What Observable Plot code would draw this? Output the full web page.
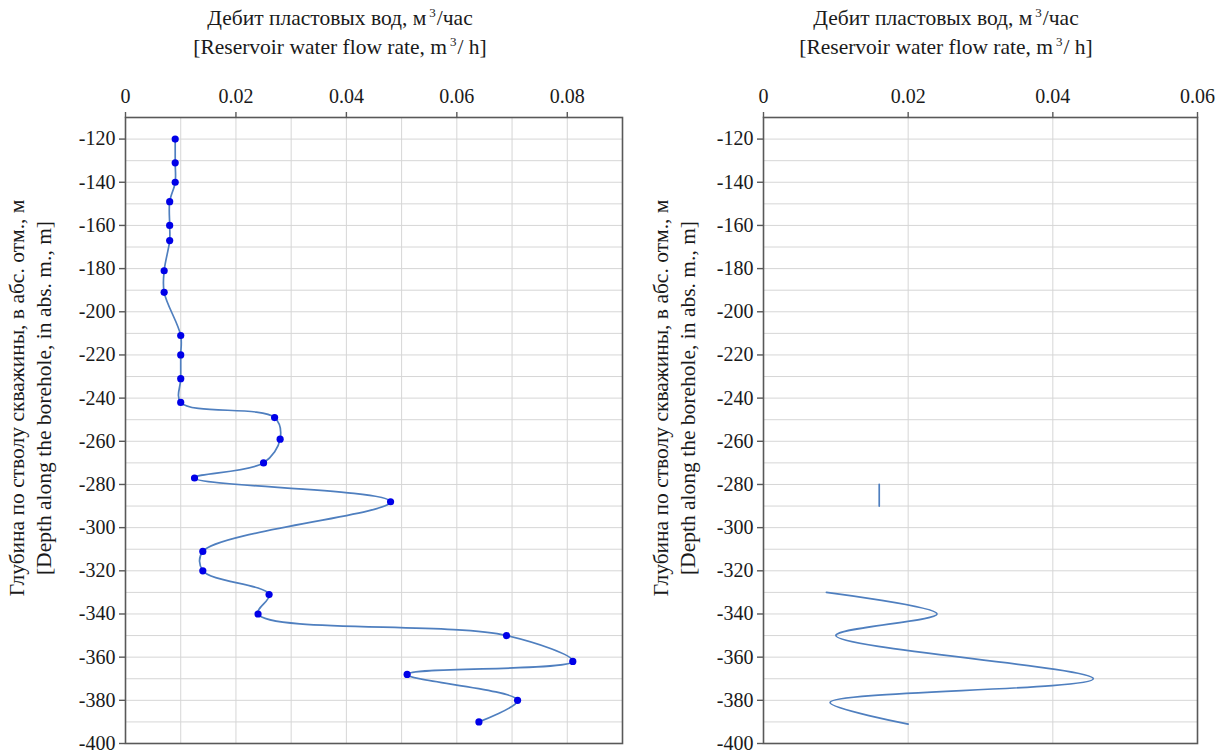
<!DOCTYPE html>
<html>
<head>
<meta charset="utf-8">
<script src="https://cdn.jsdelivr.net/npm/d3@7"></script>
<script src="https://cdn.jsdelivr.net/npm/@observablehq/plot@0.6"></script>
<style>
  html, body { margin: 0; padding: 0; background: #fff; }
  body { width: 1216px; height: 754px; position: relative; overflow: hidden; font-family: "Times New Roman", "Liberation Serif", Tinos, "DejaVu Serif", serif; color: #1a1a1a; }
  .chart { position: absolute; top: 0; }
  .title { position: absolute; font-size: 21.5px; line-height: 29px; text-align: center; white-space: nowrap; transform: translateX(-50%); top: 4px; }
  .title sup { font-size: 13px; vertical-align: 8px; line-height: 0; margin-left: 3px; margin-right: 1px; }
  .ylab { position: absolute; font-size: 21.5px; line-height: 27px; text-align: center; white-space: nowrap; transform: translate(-50%, -50%) rotate(-90deg); }
  svg, svg text { font-family: "Times New Roman", "Liberation Serif", Tinos, "DejaVu Serif", serif !important; }
</style>
</head>
<body>
<div id="left" class="chart" style="left:0px;"></div>
<div id="right" class="chart" style="left:640px;"></div>
<div class="title" style="left:340px;">Дебит пластовых вод, м<sup>3</sup>/час<br>[Reservoir water flow rate, m<sup>3</sup>/ h]</div>
<div class="title" style="left:946px;">Дебит пластовых вод, м<sup>3</sup>/час<br>[Reservoir water flow rate, m<sup>3</sup>/ h]</div>
<div class="ylab" style="left:31px; top:398px;">Глубина по стволу скважины, в абс. отм., м<br>[Depth along the borehole, in abs. m., m]</div>
<div class="ylab" style="left:675px; top:398px;">Глубина по стволу скважины, в абс. отм., м<br>[Depth along the borehole, in abs. m., m]</div>
<script>
// ---- data ----
const leftDepth = [-120,-131,-140,-149,-160,-167,-181,-191,-211,-220,-231,-242,-249,-259,-270,-277,-288,-311,-320,-331,-340,-350,-362,-368,-380,-390];
const leftRate  = [0.009,0.009,0.009,0.008,0.008,0.008,0.007,0.007,0.010,0.010,0.010,0.010,0.027,0.028,0.025,0.0125,0.048,0.014,0.014,0.026,0.024,0.069,0.081,0.051,0.071,0.064];

const rightSegment = [1,1,2,2,2,2,2,2];
const rightDepth   = [-280,-290,-330,-340,-350,-370,-381,-391];
const rightRate    = [0.016,0.016,0.0087,0.024,0.010,0.0456,0.0092,0.020];

const leftXTicks  = [0,0.02,0.04,0.06,0.08];
const leftXTickLabels = ["0","0.02","0.04","0.06","0.08"];
const leftXGrid   = [0.01,0.02,0.03,0.04,0.05,0.06,0.07,0.08];
const rightXTicks = [0,0.02,0.04,0.06];
const rightXTickLabels = ["0","0.02","0.04","0.06"];
const rightXGrid  = [0.02,0.04];
const yTicks = [-120,-140,-160,-180,-200,-220,-240,-260,-280,-300,-320,-340,-360,-380,-400];
const yTickLabels = ["-120","-140","-160","-180","-200","-220","-240","-260","-280","-300","-320","-340","-360","-380","-400"];
const yGrid = [-120,-130,-140,-150,-160,-170,-180,-190,-200,-210,-220,-230,-240,-250,-260,-270,-280,-290,-300,-310,-320,-330,-340,-350,-360,-370,-380,-390];

const leftData = leftDepth.map((d, i) => ({depth: d, rate: leftRate[i]}));
const rightData = rightDepth.map((d, i) => ({depth: d, rate: rightRate[i], seg: rightSegment[i]}));

const gridColor = "#d6d6d6";
const frameColor = "#595959";
const lineColor = "#4f7fbf";
const textColor = "#1a1a1a";
const serif = "'Times New Roman', 'Liberation Serif', Tinos, 'DejaVu Serif', serif";

function fmtFrom(ticks, labels) {
  return d => { const i = ticks.findIndex(t => Math.abs(t - d) < 1e-9); return i >= 0 ? labels[i] : ""; };
}

function commonMarks(xTicks, xLabels, xGrid) {
  return [
    Plot.gridX(xGrid, {stroke: gridColor, strokeOpacity: 1, strokeWidth: 1}),
    Plot.gridY(yGrid, {stroke: gridColor, strokeOpacity: 1, strokeWidth: 1}),
    Plot.frame({stroke: frameColor, strokeWidth: 1.6}),
    Plot.axisX(xTicks, {anchor: "top", tickSize: 6, tickPadding: 9, fontSize: 20, label: null,
      tickFormat: fmtFrom(xTicks, xLabels), stroke: frameColor, strokeWidth: 1.4, fill: textColor}),
    Plot.axisY(yTicks, {anchor: "left", tickSize: 6, tickPadding: 4, fontSize: 20, label: null,
      tickFormat: fmtFrom(yTicks, yTickLabels), stroke: frameColor, strokeWidth: 1.4, fill: textColor})
  ];
}

const left = Plot.plot({
  width: 640, height: 754,
  marginLeft: 125, marginRight: 18, marginTop: 117, marginBottom: 11,
  style: {fontFamily: serif, fontSize: "20px", color: textColor, background: "transparent"},
  x: {domain: [0, 0.09]},
  y: {domain: [-400, -110]},
  marks: [
    ...commonMarks(leftXTicks, leftXTickLabels, leftXGrid),
    Plot.line(leftData, {x: "rate", y: "depth", curve: "catmull-rom", stroke: lineColor, strokeWidth: 1.7}),
    Plot.dot(leftData, {x: "rate", y: "depth", r: 3.6, fill: "#0000e8", stroke: "none"})
  ]
});
document.getElementById("left").appendChild(left);

const right = Plot.plot({
  width: 576, height: 754,
  marginLeft: 123, marginRight: 19, marginTop: 117, marginBottom: 11,
  style: {fontFamily: serif, fontSize: "20px", color: textColor, background: "transparent", overflow: "visible"},
  x: {domain: [0, 0.06]},
  y: {domain: [-400, -110]},
  marks: [
    ...commonMarks(rightXTicks, rightXTickLabels, rightXGrid),
    Plot.line(rightData, {x: "rate", y: "depth", z: "seg", curve: "catmull-rom", stroke: lineColor, strokeWidth: 1.7})
  ]
});
document.getElementById("right").appendChild(right);
</script>
</body>
</html>
